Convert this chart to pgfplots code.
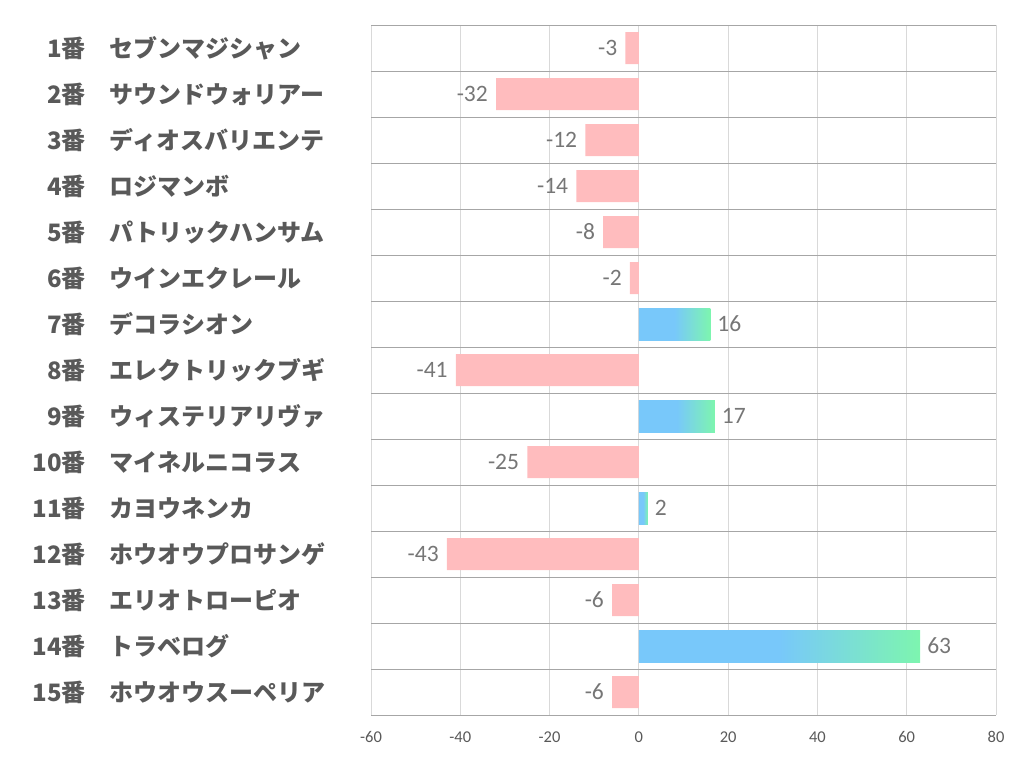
\documentclass[border=0pt]{standalone}
\usepackage{pgfplots}
\pgfplotsset{compat=1.18}
\usepackage{fontspec}
\setmainfont{Carlito}
\newfontfamily\jp{Noto Sans CJK JP}
\definecolor{bluebar}{RGB}{120,200,250}
\definecolor{greenbar}{RGB}{125,245,175}
\definecolor{pinkbar}{RGB}{255,188,190}
\definecolor{labgray}{RGB}{89,89,89}
\definecolor{valgray}{RGB}{118,118,118}
\definecolor{vgrid}{RGB}{217,217,217}
\definecolor{hgrid}{RGB}{166,166,166}
\pgfdeclarehorizontalshading{bargrad}{100bp}{color(0bp)=(bluebar); color(25bp)=(bluebar); color(50bp)=(bluebar); color(75bp)=(greenbar); color(100bp)=(greenbar)}
\newcommand{\lab}[2]{\makebox[60pt][r]{#1}\hspace{24pt}#2}
\begin{document}
\begin{tikzpicture}[x=1pt,y=1pt]
\useasboundingbox (0,0) rectangle (1022,782);
\begin{axis}[
  at={(371pt,67pt)}, anchor=south west,
  width=625pt, height=690pt, scale only axis,
  xmin=-60, xmax=80, ymin=0.5, ymax=15.5, y dir=reverse,
  xtick={-60,-40,-20,0,20,40,60,80},
  xticklabels={-60,-40,-20,0,20,40,60,80},
  ytick={1,...,15},
  minor ytick={0.5,1.5,...,15.5},
  xmajorgrids, yminorgrids,
  major grid style={draw=vgrid, line width=0.8pt},
  minor grid style={draw=hgrid, line width=0.8pt},
  axis line style={draw=none},
  tick style={draw=none},
  xticklabel style={font=\fontsize{16.5}{16.5}\selectfont, text=labgray, anchor=center, inner sep=0pt, yshift=-22pt},
  yticklabel style={font=\jp\bfseries\fontsize{24}{24}\selectfont, text=labgray, anchor=west, inner sep=0pt, xshift=-341pt},
  yticklabels={
    {\lab{1番}{セブンマジシャン}},
    {\lab{2番}{サウンドウォリアー}},
    {\lab{3番}{ディオスバリエンテ}},
    {\lab{4番}{ロジマンボ}},
    {\lab{5番}{パトリックハンサム}},
    {\lab{6番}{ウインエクレール}},
    {\lab{7番}{デコラシオン}},
    {\lab{8番}{エレクトリックブギ}},
    {\lab{9番}{ウィステリアリヴァ}},
    {\lab{10番}{マイネルニコラス}},
    {\lab{11番}{カヨウネンカ}},
    {\lab{12番}{ホウオウプロサンゲ}},
    {\lab{13番}{エリオトローピオ}},
    {\lab{14番}{トラベログ}},
    {\lab{15番}{ホウオウスーペリア}}
  },
  xbar, bar width=32pt, bar shift=0pt,
  point meta=explicit symbolic,
  nodes near coords,
  nodes near coords align={horizontal},
  every node near coord/.append style={font=\fontsize{23.5}{23.5}\selectfont, text=valgray, inner sep=0pt},
  negbar/.style={draw=none, fill=pinkbar,
    every node near coord/.append style={anchor=east, xshift=-8pt}},
  posbar/.style={draw=none, shading=bargrad,
    every node near coord/.append style={anchor=west, xshift=7pt}},
]
\addplot[negbar]
  coordinates {
  (-3,1) [-3]
  (-32,2) [-32]
  (-12,3) [-12]
  (-14,4) [-14]
  (-8,5) [-8]
  (-2,6) [-2]
  (-41,8) [-41]
  (-25,10) [-25]
  (-43,12) [-43]
  (-6,13) [-6]
  (-6,15) [-6]
};
\addplot[posbar] coordinates {(16,7) [16]};
\addplot[posbar] coordinates {(17,9) [17]};
\addplot[posbar] coordinates {(2,11) [2]};
\addplot[posbar] coordinates {(63,14) [63]};
\end{axis}
\end{tikzpicture}
\end{document}
